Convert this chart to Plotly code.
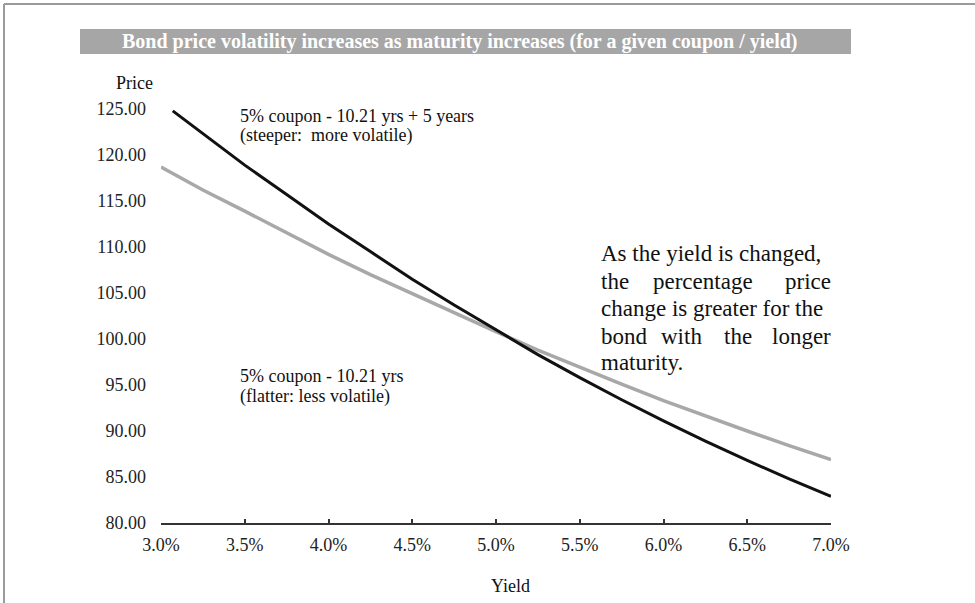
import plotly.graph_objects as go

# Bond prices across yields for a 5% coupon bond, two maturities
yield_long = [3.07, 3.25, 3.5, 3.75, 4.0, 4.25, 4.5, 4.75, 5.0, 5.25, 5.5, 5.75, 6.0, 6.25, 6.5, 6.75, 7.0]
price_long = [124.8, 122.3, 118.9, 115.7, 112.5, 109.5, 106.5, 103.7, 101.0, 98.3, 95.8, 93.4, 91.1, 88.9, 86.8, 84.8, 82.9]

yield_short = [3.0, 3.25, 3.5, 3.75, 4.0, 4.25, 4.5, 4.75, 5.0, 5.25, 5.5, 5.75, 6.0, 6.25, 6.5, 6.75, 7.0]
price_short = [118.7, 116.2, 113.9, 111.5, 109.2, 107.0, 104.9, 102.8, 100.8, 98.8, 96.9, 95.1, 93.3, 91.6, 90.0, 88.4, 86.9]

x_ticks = [3.0, 3.5, 4.0, 4.5, 5.0, 5.5, 6.0, 6.5, 7.0]
y_ticks = [80, 85, 90, 95, 100, 105, 110, 115, 120, 125]

W, H = 975, 603
L, R, T, B = 161, 831, 109, 523
SERIF = "Liberation Serif, Times New Roman, serif"


def px(x):
    return (x - L) / (R - L)


def py(y):
    return (B - y) / (B - T)


fig = go.Figure()
fig.add_trace(go.Scatter(x=yield_short, y=price_short, mode="lines",
                         line=dict(color="#a8a8a8", width=3.5),
                         showlegend=False, hoverinfo="skip"))
fig.add_trace(go.Scatter(x=yield_long, y=price_long, mode="lines",
                         line=dict(color="#111111", width=3),
                         showlegend=False, hoverinfo="skip"))

shapes = [
    # title band
    dict(type="rect", xref="paper", yref="paper", x0=px(80), x1=px(851), y0=py(54), y1=py(29),
         fillcolor="#a6a6a6", line=dict(width=0), layer="below"),
    # frame: top and left edges
    dict(type="line", xref="paper", yref="paper", x0=px(4), x1=px(W), y0=py(4), y1=py(4),
         line=dict(color="#9a9a9a", width=2)),
    dict(type="line", xref="paper", yref="paper", x0=px(4), x1=px(4), y0=py(4), y1=py(H),
         line=dict(color="#9a9a9a", width=2)),
]

ann = []


def text(s, x, y, size=18, anchor="left", color="#111111", bold=False):
    ann.append(dict(text=f"<b>{s}</b>" if bold else s, xref="paper", yref="paper",
                    x=px(x), y=py(y), xanchor=anchor, yanchor="middle", showarrow=False,
                    font=dict(family=SERIF, size=size, color=color)))


text("Bond price volatility increases as maturity increases (for a given coupon / yield)",
     460, 42, size=20, anchor="center", color="white", bold=True)
text("Price", 134, 83, size=18, anchor="center")
text("Yield", 510, 586, size=18, anchor="center")

text("5% coupon - 10.21 yrs + 5 years", 238, 116)
text("(steeper:  more volatile)", 238, 136)
text("5% coupon - 10.21 yrs", 238, 376)
text("(flatter: less volatile)", 238, 396)

# justified note on the right
NOTE = 23
text("As the yield is changed,", 599, 253, size=NOTE)
text("the", 599, 281, size=NOTE)
text("percentage", 703, 281, size=NOTE, anchor="center")
text("price", 833, 281, size=NOTE, anchor="right")
text("change is greater for the", 599, 308, size=NOTE)
text("bond", 599, 336, size=NOTE)
text("with", 681, 336, size=NOTE, anchor="center")
text("the", 738, 336, size=NOTE, anchor="center")
text("longer", 833, 336, size=NOTE, anchor="right")
text("maturity.", 599, 362, size=NOTE)

fig.update_layout(
    width=W, height=H,
    margin=dict(l=L, r=W - R, t=T, b=H - B),
    paper_bgcolor="white", plot_bgcolor="white",
    shapes=shapes, annotations=ann,
    xaxis=dict(range=[3.0, 7.0], tickvals=x_ticks, ticktext=[f"{v:.1f}%" for v in x_ticks],
               showgrid=False, zeroline=False, showline=True, linecolor="#333333", linewidth=2,
               ticks="inside", ticklen=4, tickwidth=2, tickcolor="#333333",
               ticklabelstandoff=4,
               tickfont=dict(family=SERIF, size=18, color="#222222")),
    yaxis=dict(range=[80, 125], tickvals=y_ticks, ticktext=[f"{v:.2f}" for v in y_ticks],
               showgrid=False, zeroline=False, showline=False, ticks="",
               ticklabelstandoff=14,
               tickfont=dict(family=SERIF, size=18, color="#222222")),
)

fig.write_html("out.html")
